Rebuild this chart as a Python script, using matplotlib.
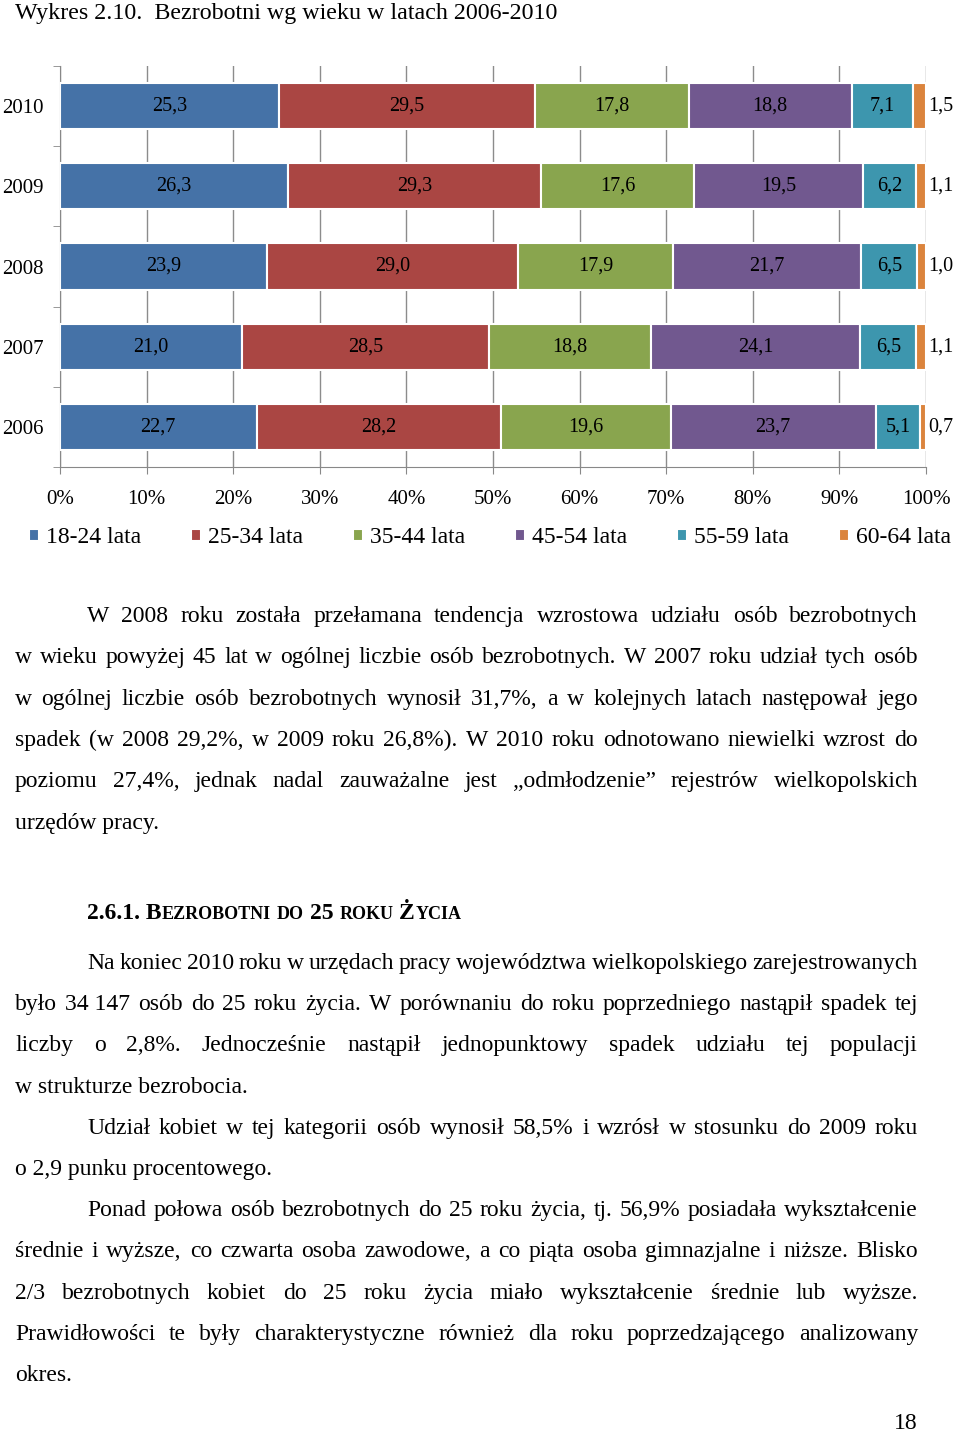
import matplotlib
matplotlib.use("Agg")
import matplotlib.pyplot as plt
import numpy as np

# data
years = ["2006", "2007", "2008", "2009", "2010"]
groups = ["18-24 lata", "25-34 lata", "35-44 lata", "45-54 lata", "55-59 lata", "60-64 lata"]
v_18_24 = [22.7, 21.0, 23.9, 26.3, 25.3]
v_25_34 = [28.2, 28.5, 29.0, 29.3, 29.5]
v_35_44 = [19.6, 18.8, 17.9, 17.6, 17.8]
v_45_54 = [23.7, 24.1, 21.7, 19.5, 18.8]
v_55_59 = [5.1, 6.5, 6.5, 6.2, 7.1]
v_60_64 = [0.7, 1.1, 1.0, 1.1, 1.5]
series = [v_18_24, v_25_34, v_35_44, v_45_54, v_55_59, v_60_64]
colors = ["#4572A7", "#AA4643", "#89A54E", "#71588F", "#3D96AE", "#DB843D"]
xticks = list(range(0, 101, 10))

plt.rcParams['font.family'] = 'Liberation Serif'

W, H = 960, 1434
fig = plt.figure(figsize=(W / 100, H / 100), dpi=100)


def fx(x):
    return x / W


def fy(y):
    return 1 - y / H


ax = fig.add_axes([fx(60), fy(467), fx(926) - fx(60), fy(66) - fy(467)])
ypos = np.arange(len(years))
left = np.zeros(len(years))
for i, (name, vals, col) in enumerate(zip(groups, series, colors)):
    bars = ax.barh(ypos, vals, left=left, height=0.575, color=col,
                   edgecolor="white", linewidth=1.5, label=name, zorder=3)
    labels = [f"{v:.1f}".replace(".", ",") for v in vals]
    if i == len(series) - 1:
        ax.bar_label(bars, labels=labels, padding=1.5, fontsize=14.5)
    else:
        ax.bar_label(bars, labels=labels, label_type="center", fontsize=14.5)
    left += np.array(vals)

ax.set_xlim(0, 100)
ax.set_ylim(-0.5, 4.5)
ax.set_xticks(xticks)
ax.set_xticklabels([f"{t}%" for t in xticks], fontsize=15)
ax.set_yticks(ypos)
ax.set_yticklabels(years, fontsize=15)
ax.set_yticks(np.arange(-0.5, 5, 1), minor=True)
ax.tick_params(axis="y", which="major", length=0, pad=12)
ax.tick_params(axis="y", which="minor", length=5, color="#888888")
ax.tick_params(axis="x", length=5, color="#888888", pad=11.5)
for s in ["top", "right"]:
    ax.spines[s].set_visible(False)
for s in ["left", "bottom"]:
    ax.spines[s].set_color("#888888")
ax.grid(axis="x", color="#8c8c8c", linewidth=1)
ax.set_axisbelow(True)

fig.legend(loc="center", bbox_to_anchor=(fx(490), fy(538)), ncol=6, frameon=False,
           fontsize=17, handlelength=0.42, handleheight=0.42, handletextpad=0.3,
           columnspacing=2.12)

# page text
renderer = fig.canvas.get_renderer()


def line(text, x0, y, justify=True, x1=918, size=17):
    if not justify:
        fig.text(fx(x0), fy(y), text, fontsize=size, va="baseline", ha="left")
        return
    words = text.split(" ")
    objs = [fig.text(0, fy(y), w, fontsize=size, va="baseline") for w in words]
    widths = [o.get_window_extent(renderer).width for o in objs]
    gap = (x1 - x0 - sum(widths)) / (len(words) - 1)
    x = x0
    for o, w in zip(objs, widths):
        o.set_x(fx(x))
        x += w + gap


fig.text(fx(15), fy(19), "Wykres 2.10.  Bezrobotni wg wieku w latach 2006-2010",
         fontsize=17.3, va="baseline")

L = 15
I = 87
line("W 2008 roku została przełamana tendencja wzrostowa udziału osób bezrobotnych", I, 622)
line("w wieku powyżej 45 lat w ogólnej liczbie osób bezrobotnych. W 2007 roku udział tych osób", L, 663)
line("w ogólnej liczbie osób bezrobotnych wynosił 31,7%, a w kolejnych latach następował jego", L, 705)
line("spadek (w 2008 29,2%, w 2009 roku 26,8%). W 2010 roku odnotowano niewielki wzrost do", L, 746)
line("poziomu 27,4%, jednak nadal zauważalne jest „odmłodzenie” rejestrów wielkopolskich", L, 787)
line("urzędów pracy.", L, 829, justify=False)

# heading in small caps
pieces = [("2.6.1. B", 17), ("EZROBOTNI", 13), ("DO", 13), ("25", 17),
          ("ROKU", 13), ("Ż", 17), ("YCIA", 13)]
spaces = [0, 1, 1, 1, 1, 0]
x = I
for k, (txt, sz) in enumerate(pieces):
    t = fig.text(fx(x), fy(919), txt, fontsize=sz, fontweight="bold", va="baseline")
    x += t.get_window_extent(renderer).width
    if k < len(spaces) and spaces[k]:
        x += 0.25 * 17 * 100 / 72
    elif k < len(spaces):
        x += 0.5

line("Na koniec 2010 roku w urzędach pracy województwa wielkopolskiego zarejestrowanych", I, 969)
line("było 34\u00a0147 osób do 25 roku życia. W porównaniu do roku poprzedniego nastąpił spadek tej", L, 1010)
line("liczby o 2,8%. Jednocześnie nastąpił jednopunktowy spadek udziału tej populacji", L, 1051)
line("w strukturze bezrobocia.", L, 1093, justify=False)
line("Udział kobiet w tej kategorii osób wynosił 58,5% i wzrósł w stosunku do 2009 roku", I, 1134)
line("o 2,9 punku procentowego.", L, 1175, justify=False)
line("Ponad połowa osób bezrobotnych do 25 roku życia, tj. 56,9% posiadała wykształcenie", I, 1216)
line("średnie i wyższe, co czwarta osoba zawodowe, a co piąta osoba gimnazjalne i niższe. Blisko", L, 1257)
line("2/3 bezrobotnych kobiet do 25 roku życia miało wykształcenie średnie lub wyższe.", L, 1299)
line("Prawidłowości te były charakterystyczne również dla roku poprzedzającego analizowany", L, 1340)
line("okres.", L, 1381, justify=False)

fig.text(fx(906), fy(1429), "18", fontsize=17, va="baseline", ha="center")

fig.savefig("out.png", dpi=100)
